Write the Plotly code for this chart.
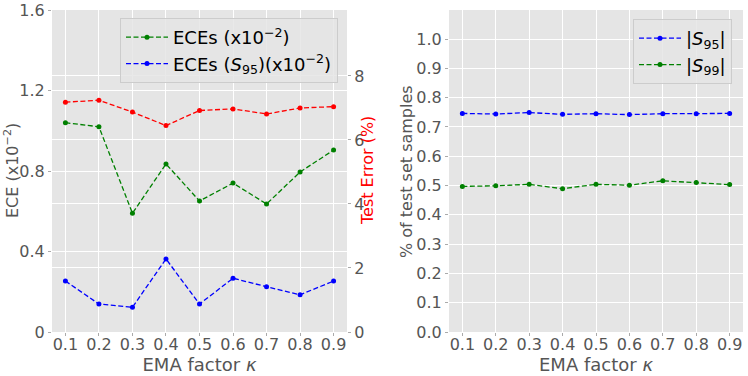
import plotly.graph_objects as go

# ── Data ──────────────────────────────────────────────────────────────────────
kappa = [0.1, 0.2, 0.3, 0.4, 0.5, 0.6, 0.7, 0.8, 0.9]
kappa_labels = ["0.1", "0.2", "0.3", "0.4", "0.5", "0.6", "0.7", "0.8", "0.9"]

ece_all = [1.04, 1.02, 0.59, 0.835, 0.651, 0.740, 0.636, 0.795, 0.904]   # ECEs (x1e-2)
ece_s95 = [0.253, 0.139, 0.123, 0.363, 0.139, 0.267, 0.225, 0.185, 0.253]  # ECEs on S95
test_err = [7.18, 7.24, 6.87, 6.45, 6.92, 6.97, 6.81, 7.00, 7.04]          # test error (%)

frac_s95 = [0.746, 0.744, 0.749, 0.743, 0.745, 0.742, 0.745, 0.745, 0.746]
frac_s99 = [0.497, 0.499, 0.504, 0.489, 0.504, 0.501, 0.516, 0.510, 0.503]

# ── Style ─────────────────────────────────────────────────────────────────────
FONT = "DejaVu Sans"
GREY = "#555555"
BG = "#E5E5E5"
DASH = "5px,2.5px"
W, H = 748, 376


def series(x, y, color, name, xa, ya, legend="legend", showlegend=True):
    return go.Scatter(
        x=x, y=y, name=name, mode="lines+markers",
        line=dict(color=color, width=1.3, dash=DASH),
        marker=dict(color=color, size=5),
        xaxis=xa, yaxis=ya, legend=legend, showlegend=showlegend,
    )


fig = go.Figure()
fig.add_trace(series(kappa, ece_all, "green", "ECEs (x10<sup>−2</sup>)", "x", "y"))
fig.add_trace(series(kappa, ece_s95, "blue",
                     "ECEs (<i>S</i><sub>95</sub>)(x10<sup>−2</sup>)", "x", "y"))
fig.add_trace(series(kappa, test_err, "red", "Test Error", "x", "y2", showlegend=False))
fig.add_trace(series(kappa, frac_s95, "blue", "|<i>S</i><sub>95</sub>|", "x3", "y3", legend="legend2"))
fig.add_trace(series(kappa, frac_s99, "green", "|<i>S</i><sub>99</sub>|", "x3", "y3", legend="legend2"))

tick_font = dict(family=FONT, size=16, color=GREY)
title_font = dict(family=FONT, size=18, color=GREY)
common = dict(showgrid=True, gridcolor="white", gridwidth=1, zeroline=False,
              showline=False, ticks="outside", ticklen=3, tickcolor="#AAAAAA",
              tickfont=tick_font, automargin=False, ticklabeloverflow="allow")
xcommon = dict(range=[0.06, 0.94], tickvals=kappa, ticktext=kappa_labels,
               ticklabelstandoff=-5, **common)

y_dom = [1 - 332 / H, 1 - 10 / H]
legend_style = dict(xanchor="left", yanchor="top", itemwidth=42,
                    bgcolor="rgba(229,229,229,0.85)", bordercolor="#CCCCCC", borderwidth=1,
                    font=dict(family=FONT, size=18, color="black"))

fig.update_layout(
    width=W, height=H,
    margin=dict(l=0, r=0, t=0, b=0),
    paper_bgcolor="white", plot_bgcolor=BG,
    font=dict(family=FONT, color=GREY),
    xaxis=dict(domain=[52 / W, 347 / W], anchor="y",
               title=dict(text="EMA factor <i>κ</i>", font=title_font, standoff=0),
               **xcommon),
    yaxis=dict(domain=y_dom, range=[0, 1.6], anchor="x",
               tickvals=[0, 0.4, 0.8, 1.2, 1.6], ticktext=["0", "0.4", "0.8", "1.2", "1.6"],
               **common),
    yaxis2=dict(overlaying="y", side="right", anchor="x", range=[0, 10.06],
                tickvals=[0, 2, 4, 6, 8], **common),
    xaxis3=dict(domain=[449 / W, 743 / W], anchor="y3",
                title=dict(text="EMA factor <i>κ</i>", font=title_font, standoff=0),
                **xcommon),
    yaxis3=dict(domain=y_dom, range=[0, 1.099], anchor="x3",
                tickvals=[i / 10 for i in range(11)],
                ticktext=[f"{i / 10:.1f}" for i in range(11)],
                **common),
    legend=dict(x=120 / W, y=1 - 18 / H, **legend_style),
    legend2=dict(x=633 / W, y=1 - 19 / H, **legend_style),
)

# y titles placed by hand: plotly's standoff cannot put them where the reference has them
y_titles = [("ECE (x10<sup>−2</sup>)", 11, GREY),
            ("Test Error (%)", 367, "red"),
            ("% of test set samples", 406, GREY)]
for text, xpix, color in y_titles:
    fig.add_annotation(text=text, textangle=-90, showarrow=False,
                       xref="paper", yref="paper", x=xpix / W, y=1 - 171 / H,
                       xanchor="center", yanchor="middle",
                       font=dict(family=FONT, size=16, color=color))

# drop the page's default 8px body margin so the figure sits at the window corner
fig.write_html("out.html", config={"displayModeBar": False},
               post_script="document.body.style.margin='0';")
